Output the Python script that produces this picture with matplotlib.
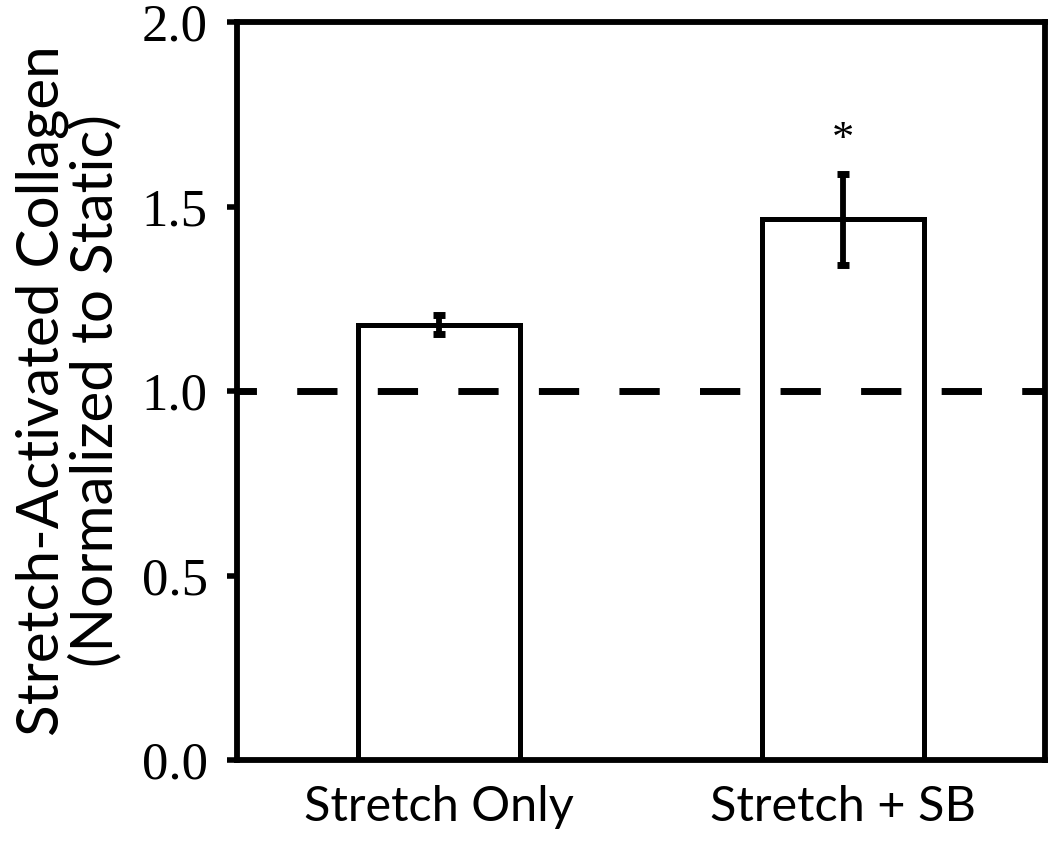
import matplotlib
matplotlib.use("Agg")
import matplotlib.pyplot as plt

plt.rcParams["lines.scale_dashes"] = False

categories = ["Stretch Only", "Stretch + SB"]
values = [1.18, 1.465]
errors = [0.025, 0.124]
baseline = 1.0
sig_marks = ["", "*"]
yticks = [0.0, 0.5, 1.0, 1.5, 2.0]

fig = plt.figure(figsize=(10.5, 8.41), dpi=100)
ax = fig.add_axes([0.2257, 0.0963, 0.9952 - 0.2257, 0.9738 - 0.0963])

x = range(len(categories))
ax.bar(x, values, width=0.4, color="white", edgecolor="black", linewidth=3.6, zorder=2)
ax.errorbar(x, values, yerr=errors, fmt="none", ecolor="black", elinewidth=4.2,
            capsize=4.3, capthick=5, zorder=4)

# reference line at 1.0 (dashed, drawn over bars)
ax.plot([-0.5, 1.5], [baseline, baseline], color="black", linewidth=5,
        linestyle=(15, (29, 29)), dash_capstyle="butt", zorder=3)

for xi, v, e, m in zip(x, values, errors, sig_marks):
    if m:
        ax.text(xi, v + e + 0.09, m, ha="center", va="center", fontsize=32,
                family="Liberation Serif")

ax.set_xlim(-0.5, 1.5)
ax.set_ylim(0, 2.0)
ax.set_yticks(yticks)
ax.set_yticklabels(["%.1f" % t for t in yticks], family="Liberation Serif", fontsize=38)
ax.set_xticks(list(x))
ax.set_xticklabels(categories, family="Lato", fontsize=35)
ax.tick_params(axis="x", length=0, pad=18)
ax.tick_params(axis="y", direction="out", length=7, width=4, pad=14)
for s in ax.spines.values():
    s.set_linewidth(4.2)

ax.set_ylabel("Stretch-Activated Collagen\n(Normalized to Static)", family="Lato",
              fontsize=42, linespacing=1.0, labelpad=14)

plt.savefig("out.png", dpi=100)
